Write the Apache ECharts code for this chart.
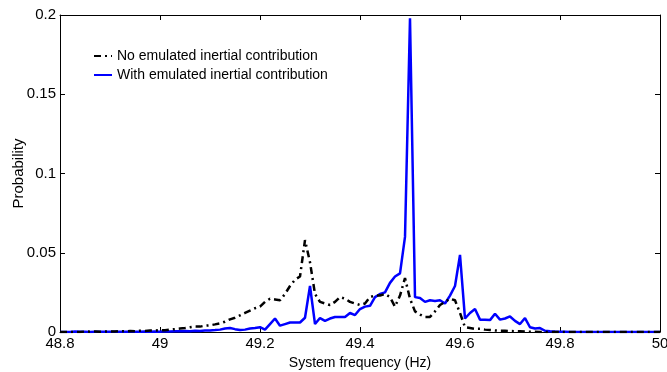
<!DOCTYPE html>
<html>
<head>
<meta charset="utf-8">
<script src="https://cdn.jsdelivr.net/npm/echarts@6/dist/echarts.min.js"></script>
<style>
html,body{margin:0;padding:0;background:#fff;}
#chart{width:667px;height:372px;}
</style>
</head>
<body>
<div id="chart"></div>
<script>
// Frequency sampling (Hz): 48.80 .. 50.00 in 0.01 steps
var freqStart = 48.80, freqStep = 0.01, freqCount = 121;
var seriesNames = ['No emulated inertial contribution', 'With emulated inertial contribution'];
var xTickLabels = ['48.8', '49', '49.2', '49.4', '49.6', '49.8', '50'];
var yTickLabels = ['0', '0.05', '0.1', '0.15', '0.2'];

// No emulated inertial contribution (black dash-dot)
var noInertia = [
  0, 0, 0, 0, 0, 0.0003, 0.0002, 0.0003, 0.0002, 0.0003,
  0.0004, 0.0003, 0.0005, 0.0004, 0.0006, 0.0005, 0.0008, 0.0007, 0.001, 0.0009,
  0.0012, 0.0011, 0.0015, 0.0018, 0.0022, 0.0025, 0.003, 0.0035, 0.0034, 0.004,
  0.0042, 0.0048, 0.0055, 0.0065, 0.008, 0.009, 0.0105, 0.012, 0.0135, 0.015,
  0.016, 0.019, 0.021, 0.0205, 0.02, 0.024, 0.029, 0.033, 0.035, 0.058,
  0.044, 0.024, 0.019, 0.018, 0.017, 0.019, 0.022, 0.021, 0.019, 0.018,
  0.017, 0.018, 0.022, 0.023, 0.023, 0.024, 0.022, 0.016, 0.023, 0.034,
  0.021, 0.013, 0.011, 0.0095, 0.0095, 0.013, 0.017, 0.019, 0.021, 0.02,
  0.012, 0.003, 0.0025, 0.002, 0.002, 0.0015, 0.0013, 0.001, 0.0008, 0.0008,
  0.0006, 0.0005, 0.0004, 0.0003, 0.0002, 0.0001, 0, 0, 0, 0,
  0, 0, 0, 0, 0, 0, 0, 0, 0, 0,
  0, 0, 0, 0, 0, 0, 0, 0, 0, 0,
  0
];

// With emulated inertial contribution (blue solid)
var withInertia = [
  0, 0, 0, 0.0003, 0.0001, 0.0002, 0, 0.0001, 0.0002, 0.0001,
  0.0001, 0.0002, 0.0001, 0.0001, 0.0002, 0.0001, 0.0002, 0.0003, 0.0002, 0.0003,
  0.0002, 0.0004, 0.0003, 0.0005, 0.0004, 0.0006, 0.0005, 0.0008, 0.0006, 0.0009,
  0.001, 0.0012, 0.0015, 0.0022, 0.0025, 0.0018, 0.0012, 0.0015, 0.0022, 0.0025,
  0.003, 0.0015, 0.005, 0.0085, 0.004, 0.005, 0.006, 0.006, 0.006, 0.009,
  0.029, 0.005, 0.0088, 0.007, 0.0085, 0.0095, 0.0095, 0.0095, 0.012, 0.0107,
  0.0145, 0.016, 0.0165, 0.022, 0.024, 0.025, 0.031, 0.035, 0.037, 0.06,
  0.198, 0.022, 0.0215, 0.019, 0.02, 0.0195, 0.02, 0.018, 0.023, 0.029,
  0.0486, 0.0085, 0.012, 0.0145, 0.0078, 0.0078, 0.0075, 0.0115, 0.0078, 0.0085,
  0.0098, 0.007, 0.005, 0.0088, 0.003, 0.0022, 0.0025, 0.0008, 0.0005, 0.0003,
  0.0002, 0.0001, 0, 0, 0, 0, 0, 0, 0, 0,
  0, 0, 0, 0, 0, 0, 0, 0, 0, 0,
  0
];

var freqs = [];
for (var i = 0; i < freqCount; i++) freqs.push(+(freqStart + freqStep * i).toFixed(2));
function pairs(vals) { return freqs.map(function (f, i) { return [f, vals[i]]; }); }

var FONT = 'Liberation Sans, Arial, sans-serif';
var axisCommon = {
  axisLine: { show: true, onZero: false, lineStyle: { color: '#000', width: 1 } },
  axisTick: { show: true, inside: true, length: 5, lineStyle: { color: '#000' } },
  splitLine: { show: false }
};
var xMin = 48.8, xMax = 50, xInt = 0.2;
var yMin = 0, yMax = 0.2, yInt = 0.05;

var chart = echarts.init(document.getElementById('chart'), null, { renderer: 'canvas' });
chart.setOption({
  animation: false,
  backgroundColor: '#fff',
  grid: { left: 60, right: 7, top: 15, bottom: 40, containLabel: false, outerBoundsMode: 'none' },
  legend: {
    orient: 'vertical', left: 88, top: 44, itemWidth: 18, itemHeight: 14, itemGap: 5,
    itemStyle: { opacity: 0 },
    textStyle: { fontFamily: FONT, fontSize: 14, color: '#000' },
    data: seriesNames
  },
  xAxis: [
    Object.assign({}, axisCommon, {
      type: 'value', position: 'bottom', min: xMin, max: xMax, interval: xInt,
      name: 'System frequency (Hz)', nameLocation: 'middle', nameGap: 24, nameMoveOverlap: false,
      nameTextStyle: { fontFamily: FONT, fontSize: 14, color: '#000' },
      axisLabel: { margin: 4, fontFamily: FONT, fontSize: 15, color: '#000',
        alignMinLabel: 'center', alignMaxLabel: 'center', hideOverlap: false,
        formatter: function (v, idx) { return xTickLabels[Math.round((v - xMin) / xInt)]; } }
    }),
    Object.assign({}, axisCommon, {
      type: 'value', position: 'top', min: xMin, max: xMax, interval: xInt,
      axisLabel: { show: false }
    })
  ],
  yAxis: [
    Object.assign({}, axisCommon, {
      type: 'value', position: 'left', min: yMin, max: yMax, interval: yInt,
      name: 'Probability', nameLocation: 'middle', nameGap: 34, nameMoveOverlap: false,
      nameTextStyle: { fontFamily: FONT, fontSize: 15, color: '#000' },
      axisLabel: { margin: 4, fontFamily: FONT, fontSize: 15, color: '#000',
        formatter: function (v) { return yTickLabels[Math.round((v - yMin) / yInt)]; } }
    }),
    Object.assign({}, axisCommon, {
      type: 'value', position: 'right', min: yMin, max: yMax, interval: yInt,
      axisLabel: { show: false }
    })
  ],
  series: [
    {
      name: seriesNames[0], type: 'line', xAxisIndex: 0, yAxisIndex: 0,
      data: pairs(noInertia), showSymbol: false, symbol: 'none',
      lineStyle: { color: '#000', width: 2.5, type: [7, 4, 2, 4] },
      itemStyle: { color: '#000' }, z: 3
    },
    {
      name: seriesNames[1], type: 'line', xAxisIndex: 0, yAxisIndex: 0,
      data: pairs(withInertia), showSymbol: false, symbol: 'none',
      lineStyle: { color: '#0000ff', width: 2.5 },
      itemStyle: { color: '#0000ff' }, z: 2
    }
  ]
});
</script>
</body>
</html>
